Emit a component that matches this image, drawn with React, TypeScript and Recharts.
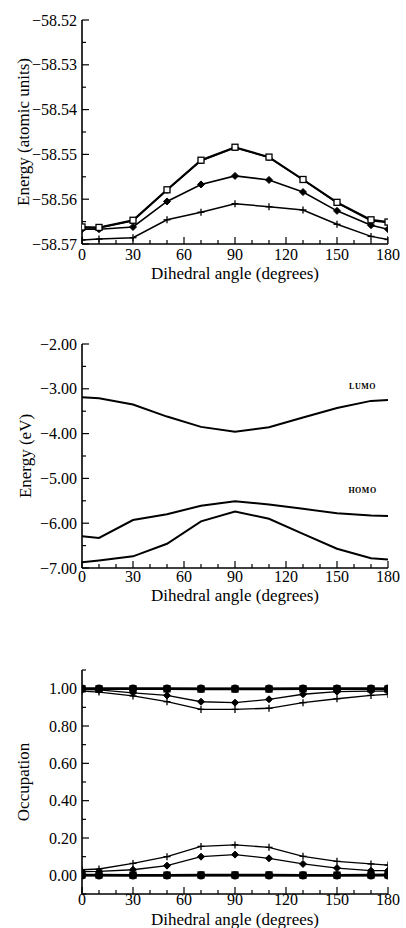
import { LineChart, Line, XAxis, YAxis, ReferenceDot } from 'recharts'

const serif = '"Liberation Serif", "Times New Roman", serif'

const angles = [0, 10, 30, 50, 70, 90, 110, 130, 150, 170, 180]
const angleTicks = [0, 10, 20, 30, 40, 50, 60, 70, 80, 90, 100, 110, 120, 130, 140, 150, 160, 170, 180]
const angleLabels = [0, 30, 60, 90, 120, 150, 180]

// total energy (atomic units)
const energySquares = [-58.5662, -58.5663, -58.5647, -58.5579, -58.5513, -58.5484, -58.5506, -58.5556, -58.5607, -58.5646, -58.5651]
const energyCircles = [-58.5664, -58.5664, -58.5648, -58.558, -58.5514, -58.5485, -58.5507, -58.5557, -58.5608, -58.5648, -58.5652]
const energyDiamonds = [-58.5667, -58.5667, -58.5662, -58.5605, -58.5567, -58.5548, -58.5557, -58.5584, -58.5626, -58.5658, -58.5667]
const energyPlus = [-58.5691, -58.5689, -58.5686, -58.5646, -58.5629, -58.561, -58.5617, -58.5624, -58.5656, -58.5683, -58.569]
const energyTicks = [-58.57, -58.565, -58.56, -58.555, -58.55, -58.545, -58.54, -58.535, -58.53, -58.525, -58.52]
const energyLabels = [-58.57, -58.56, -58.55, -58.54, -58.53, -58.52]

// frontier orbital energies (eV)
const lumo = [-3.19, -3.21, -3.35, -3.62, -3.85, -3.96, -3.86, -3.64, -3.43, -3.27, -3.25]
const homoUpper = [-6.29, -6.33, -5.93, -5.8, -5.61, -5.51, -5.58, -5.68, -5.78, -5.83, -5.84]
const homoLower = [-6.87, -6.83, -6.74, -6.46, -5.96, -5.74, -5.9, -6.24, -6.57, -6.78, -6.81]
const evTicks = [-7, -6.5, -6, -5.5, -5, -4.5, -4, -3.5, -3, -2.5, -2]
const evLabels = [-7, -6, -5, -4, -3, -2]

// occupations
const occCirclesHigh = [1, 1, 1, 1, 1, 1, 1, 1, 1, 1, 1]
const occSquaresHigh = [0.999, 0.999, 0.999, 0.999, 0.998, 0.998, 0.998, 0.999, 0.999, 0.999, 0.998]
const occDiamondsHigh = [0.995, 0.993, 0.978, 0.964, 0.93, 0.925, 0.943, 0.97, 0.984, 0.987, 0.987]
const occPlusHigh = [0.987, 0.982, 0.961, 0.93, 0.889, 0.889, 0.895, 0.925, 0.946, 0.964, 0.969]
const occCirclesLow = [0, 0, 0, 0, 0, 0, 0, 0, 0, 0, 0]
const occSquaresLow = [0.002, 0.002, 0.001, 0.001, 0.002, 0.002, 0.002, 0.001, 0.001, 0.002, 0.003]
const occDiamondsLow = [0.02, 0.021, 0.03, 0.052, 0.1, 0.111, 0.091, 0.061, 0.039, 0.025, 0.025]
const occPlusLow = [0.03, 0.034, 0.064, 0.1, 0.155, 0.163, 0.15, 0.102, 0.075, 0.061, 0.055]
const occTicks = [-0.1, 0, 0.1, 0.2, 0.3, 0.4, 0.5, 0.6, 0.7, 0.8, 0.9, 1, 1.1]
const occLabels = [0, 0.2, 0.4, 0.6, 0.8, 1]

const energyData = angles.map((a, i) => ({
  angle: a, sq: energySquares[i], ci: energyCircles[i], di: energyDiamonds[i], pl: energyPlus[i],
}))
const orbitalData = angles.map((a, i) => ({
  angle: a, lumo: lumo[i], homoUp: homoUpper[i], homoLow: homoLower[i],
}))
const occData = angles.map((a, i) => ({
  angle: a,
  ciH: occCirclesHigh[i], sqH: occSquaresHigh[i], diH: occDiamondsHigh[i], plH: occPlusHigh[i],
  ciL: occCirclesLow[i], sqL: occSquaresLow[i], diL: occDiamondsLow[i], plL: occPlusLow[i],
}))

const isIn = (list: number[], v: number) => list.some(m => Math.abs(m - v) < 1e-6)
const minus = (s: string) => s.replace('-', '\u2212')

type Mark = 'circle' | 'square' | 'diamond' | 'plus'

const marker = (kind: Mark, size: number, filled: boolean) => (p: any) => {
  const { cx, cy, index } = p
  const h = size / 2
  const fill = filled ? '#000' : '#fff'
  if (kind === 'circle')
    return <circle key={index} cx={cx} cy={cy} r={h} fill={fill} stroke="#000" strokeWidth={1.3} />
  if (kind === 'square')
    return <rect key={index} x={cx - h} y={cy - h} width={size} height={size} fill={fill} stroke="#000" strokeWidth={1.3} />
  if (kind === 'diamond')
    return (
      <polygon key={index} points={`${cx},${cy - h} ${cx + h},${cy} ${cx},${cy + h} ${cx - h},${cy}`}
        fill={fill} stroke="#000" strokeWidth={1} />
    )
  return (
    <g key={index}>
      <line x1={cx - h} x2={cx + h} y1={cy} y2={cy} stroke="#000" strokeWidth={1.3} />
      <line x1={cx} x2={cx} y1={cy - h} y2={cy + h} stroke="#000" strokeWidth={1.3} />
    </g>
  )
}

const MAJOR = 7
const MINOR = 4
const axisLine = { stroke: '#000', strokeWidth: 1.6 }

const bottomTick = (dy: number) => ({ x, y, payload }: any) => {
  const major = isIn(angleLabels, payload.value)
  return (
    <g>
      <line x1={x} x2={x} y1={y} y2={y - (major ? MAJOR : MINOR)} stroke="#000" strokeWidth={1.2} />
      {major && (
        <text x={x} y={y + dy} textAnchor="middle" fontSize={16} fontFamily={serif} fill="#000">
          {payload.value}
        </text>
      )}
    </g>
  )
}

const topTick = ({ x, y, payload }: any) => {
  const major = isIn(angleLabels, payload.value)
  return <line x1={x} x2={x} y1={y} y2={y + (major ? MAJOR : MINOR)} stroke="#000" strokeWidth={1.2} />
}

const leftTick = (labels: number[], fmt: (v: number) => string) => ({ x, y, payload }: any) => {
  const major = isIn(labels, payload.value)
  return (
    <g>
      <line x1={x} x2={x + (major ? MAJOR : MINOR)} y1={y} y2={y} stroke="#000" strokeWidth={1.2} />
      {major && (
        <text x={x - 5} y={y} textAnchor="end" dominantBaseline="central" fontSize={16} fontFamily={serif} fill="#000">
          {fmt(payload.value)}
        </text>
      )}
    </g>
  )
}

const rightTick = (labels: number[]) => ({ x, y, payload }: any) => {
  const major = isIn(labels, payload.value)
  return <line x1={x} x2={x - (major ? MAJOR : MINOR)} y1={y} y2={y} stroke="#000" strokeWidth={1.2} />
}

const xTitle = (dy: number) => (p: any) => {
  const vb = p.viewBox
  return (
    <text x={vb.x + vb.width / 2} y={vb.y + dy} textAnchor="middle" fontSize={17} fontFamily={serif} fill="#000">
      Dihedral angle (degrees)
    </text>
  )
}

const yTitle = (text: string, dx: number) => (p: any) => {
  const vb = p.viewBox
  const cx = vb.x + dx
  const cy = vb.y + vb.height / 2
  return (
    <text x={cx} y={cy} transform={`rotate(-90 ${cx} ${cy})`} textAnchor="middle" dominantBaseline="central"
      fontSize={17} fontFamily={serif} fill="#000">
      {text}
    </text>
  )
}

type FrameOpts = {
  xHeight: number
  tickDy: number
  titleDy: number
  yDomain: [number, number]
  yTicks: number[]
  yLabels: number[]
  yFmt: (v: number) => string
  yName: string
  yNameDx: number
}

function frame(o: FrameOpts) {
  return [
    <XAxis key="xb" xAxisId="b" dataKey="angle" type="number" domain={[0, 180]} allowDataOverflow
      ticks={angleTicks} interval={0} tickSize={0} tickMargin={0} tickLine={false} axisLine={axisLine}
      tick={bottomTick(o.tickDy)} height={o.xHeight} label={{ content: xTitle(o.titleDy) }} />,
    <XAxis key="xt" xAxisId="t" orientation="top" type="number" domain={[0, 180]} allowDataOverflow
      ticks={angleTicks} interval={0} tickSize={0} tickMargin={0} tickLine={false} axisLine={axisLine}
      tick={topTick} height={0} />,
    <YAxis key="yl" yAxisId="l" type="number" domain={o.yDomain} allowDataOverflow
      ticks={o.yTicks} interval={0} tickSize={0} tickMargin={0} tickLine={false} axisLine={axisLine}
      tick={leftTick(o.yLabels, o.yFmt)} width={82} label={{ content: yTitle(o.yName, o.yNameDx) }} />,
    <YAxis key="yr" yAxisId="r" orientation="right" type="number" domain={o.yDomain} allowDataOverflow
      ticks={o.yTicks} interval={0} tickSize={0} tickMargin={0} tickLine={false} axisLine={axisLine}
      tick={rightTick(o.yLabels)} width={0} />,
  ]
}

const series = { xAxisId: 'b', yAxisId: 'l', type: 'linear' as const, stroke: '#000', isAnimationActive: false, activeDot: false }

export default function App() {
  return (
    <div style={{ position: 'absolute', left: 0, top: 0, width: 406, height: 928, background: '#fff' }}>
      <div style={{ position: 'absolute', left: 0, top: 0 }}>
        <LineChart width={406} height={300} data={energyData} margin={{ top: 20, right: 18, bottom: 0, left: 0 }}>
          {frame({
            xHeight: 56, tickDy: 16, titleDy: 35,
            yDomain: [-58.57, -58.52], yTicks: energyTicks, yLabels: energyLabels,
            yFmt: v => minus(v.toFixed(2)), yName: 'Energy (atomic units)', yNameDx: 23,
          })}
          <Line {...series} dataKey="pl" strokeWidth={1.5} dot={marker('plus', 7, false)} />
          <Line {...series} dataKey="di" strokeWidth={1.6} dot={marker('diamond', 7, true)} />
          <Line {...series} dataKey="ci" strokeWidth={1.6} dot={marker('circle', 5, false)} />
          <Line {...series} dataKey="sq" strokeWidth={2} dot={marker('square', 6, false)} />
        </LineChart>
      </div>

      <div style={{ position: 'absolute', left: 0, top: 320 }}>
        <LineChart width={406} height={300} data={orbitalData} margin={{ top: 24, right: 18, bottom: 0, left: 0 }}>
          {frame({
            xHeight: 52, tickDy: 14, titleDy: 33,
            yDomain: [-7, -2], yTicks: evTicks, yLabels: evLabels,
            yFmt: v => minus(v.toFixed(2)), yName: 'Energy (eV)', yNameDx: 25,
          })}
          <Line {...series} dataKey="lumo" strokeWidth={2} dot={false} />
          <Line {...series} dataKey="homoUp" strokeWidth={2} dot={false} />
          <Line {...series} dataKey="homoLow" strokeWidth={2} dot={false} />
          <ReferenceDot xAxisId="b" yAxisId="l" x={165} y={-2.94} r={0}
            shape={(p: any) => (
              <text x={p.cx} y={p.cy} textAnchor="middle" dominantBaseline="central" fontSize={8}
                fontWeight="bold" fontFamily={serif} letterSpacing={0.5} fill="#000">LUMO</text>
            )} />
          <ReferenceDot xAxisId="b" yAxisId="l" x={165} y={-5.28} r={0}
            shape={(p: any) => (
              <text x={p.cx} y={p.cy} textAnchor="middle" dominantBaseline="central" fontSize={8}
                fontWeight="bold" fontFamily={serif} letterSpacing={0.5} fill="#000">HOMO</text>
            )} />
        </LineChart>
      </div>

      <div style={{ position: 'absolute', left: 0, top: 640 }}>
        <LineChart width={406} height={288} data={occData} margin={{ top: 30, right: 18, bottom: 0, left: 0 }}>
          {frame({
            xHeight: 34, tickDy: 11, titleDy: 31,
            yDomain: [-0.1, 1.1], yTicks: occTicks, yLabels: occLabels,
            yFmt: v => v.toFixed(2), yName: 'Occupation', yNameDx: 23,
          })}
          <Line {...series} dataKey="plH" strokeWidth={1.3} dot={marker('plus', 7, false)} />
          <Line {...series} dataKey="diH" strokeWidth={1.3} dot={marker('diamond', 7, true)} />
          <Line {...series} dataKey="sqH" strokeWidth={2.5} dot={marker('square', 6, true)} />
          <Line {...series} dataKey="ciH" strokeWidth={2.5} dot={marker('circle', 7, true)} />
          <Line {...series} dataKey="plL" strokeWidth={1.3} dot={marker('plus', 7, false)} />
          <Line {...series} dataKey="diL" strokeWidth={1.3} dot={marker('diamond', 7, true)} />
          <Line {...series} dataKey="sqL" strokeWidth={2.5} dot={marker('square', 6, true)} />
          <Line {...series} dataKey="ciL" strokeWidth={2.5} dot={marker('circle', 7, true)} />
        </LineChart>
      </div>
    </div>
  )
}
